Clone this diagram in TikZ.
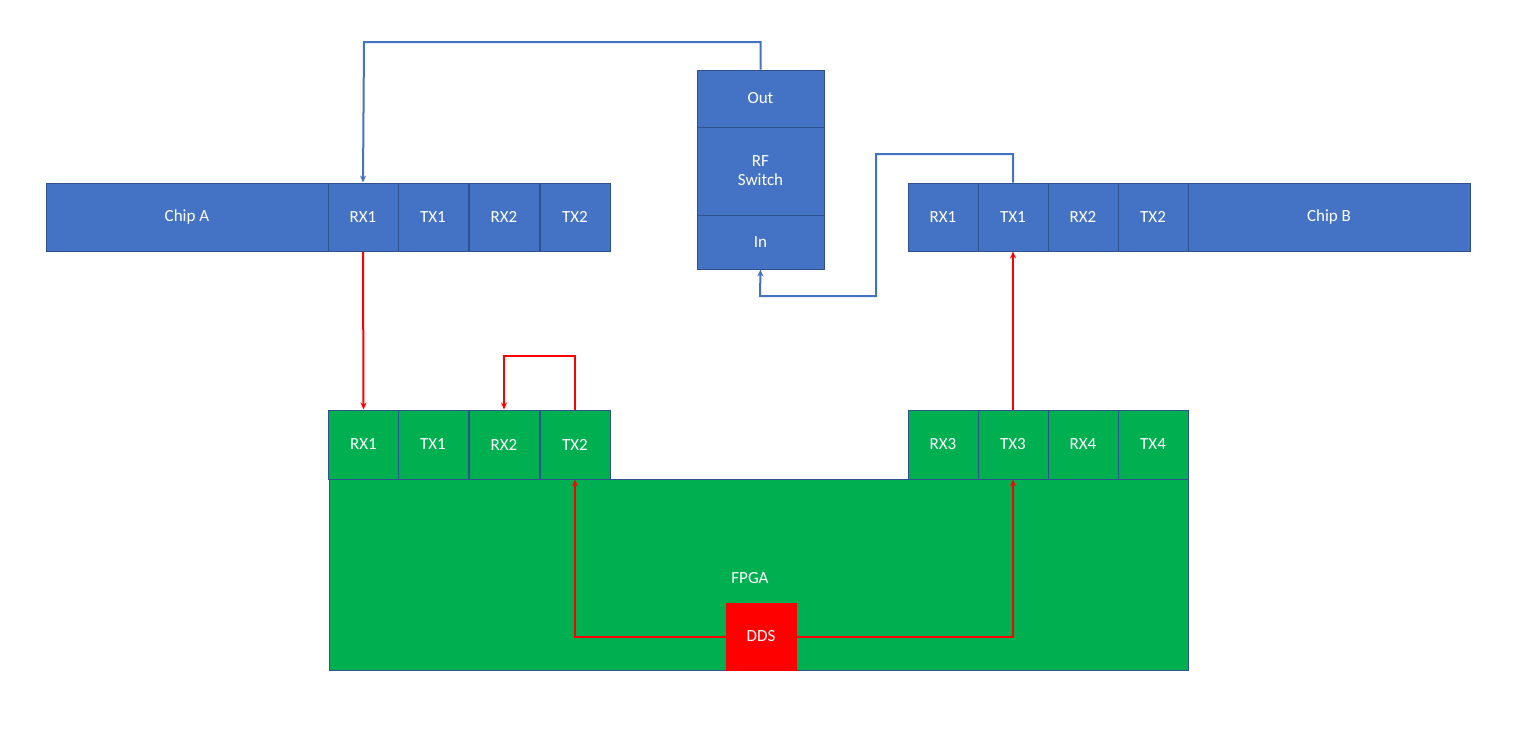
\documentclass[tikz,border=0pt]{standalone}
\usepackage{fontspec}
\setmainfont{Carlito}
\usetikzlibrary{arrows.meta}
\definecolor{bl}{HTML}{4472C4}
\definecolor{bld}{HTML}{2F528F}
\definecolor{gr}{HTML}{00B050}
\definecolor{rd}{HTML}{FF0000}
\begin{document}
\begin{tikzpicture}[x=1pt,y=-1pt,
  box/.style={draw=bld,line width=1pt,text=white,font=\fontsize{17}{19}\selectfont},
  b/.style={box,fill=bl},
  g/.style={box,fill=gr},
  r/.style={box,fill=rd},
  bw/.style={draw=bl,line width=2pt,-{Stealth[length=7pt,width=6pt]}},
  rw/.style={draw=rd,line width=2pt,-{Stealth[length=7pt,width=6pt]}}]
\useasboundingbox (0,0) rectangle (1527,745);
% Chip A
\node[b,minimum width=282pt,minimum height=68pt] (chipA) at (187,217) {Chip A};
\foreach \n/\t/\x in {aRX1/RX1/363,aTX1/TX1/433,aRX2/RX2/504,aTX2/TX2/575}
  \node[b,minimum width=70pt,minimum height=68pt] (\n) at (\x,217) {\t};
% Chip B
\foreach \n/\t/\x in {bRX1/RX1/943,bTX1/TX1/1013,bRX2/RX2/1083,bTX2/TX2/1153}
  \node[b,minimum width=70pt,minimum height=68pt] (\n) at (\x,217) {\t};
\node[b,minimum width=282pt,minimum height=68pt] (chipB) at (1329,217) {Chip B};
% RF switch
\node[b,minimum width=127pt,minimum height=57pt] (out) at (760.5,98.5) {Out};
\node[b,minimum width=127pt,minimum height=88pt,align=center] (sw) at (760.5,171) {RF\\Switch};
\node[b,minimum width=127pt,minimum height=54pt] (in) at (760.5,242) {In};
% FPGA
\node[g,minimum width=859pt,minimum height=191pt] (fpga) at (758.5,574.5) {};
\node[text=white,font=\fontsize{17}{19}\selectfont] (flab) at (750,578) {FPGA};
\foreach \n/\t/\x in {fRX1/RX1/363.5,fTX1/TX1/433,fRX2/RX2/504,fTX2/TX2/575,fRX3/RX3/943,fTX3/TX3/1013,fRX4/RX4/1083,fTX4/TX4/1153}
  \node[g,minimum width=70pt,minimum height=69pt] (\n) at (\x,444.5) {\t};
\node[r,draw=rd,minimum width=70pt,minimum height=67pt] (dds) at (761,636.5) {DDS};
% blue
\draw[bw] (out.north) |- (364,42) -- (aRX1.north);
\draw[bw] (bTX1.north) |- (876,154) |- (760,296) -- (in.south);
% red
\draw[rw] (aRX1.south) -- (fRX1.north);
\draw[rw] (fTX2.north) |- (504,356) -- (fRX2.north);
\draw[rw] (fTX3.north) -- (bTX1.south);
\draw[rw] (dds.west) -| (fTX2.south);
\draw[rw] (dds.east) -| (fTX3.south);
\end{tikzpicture}
\end{document}
